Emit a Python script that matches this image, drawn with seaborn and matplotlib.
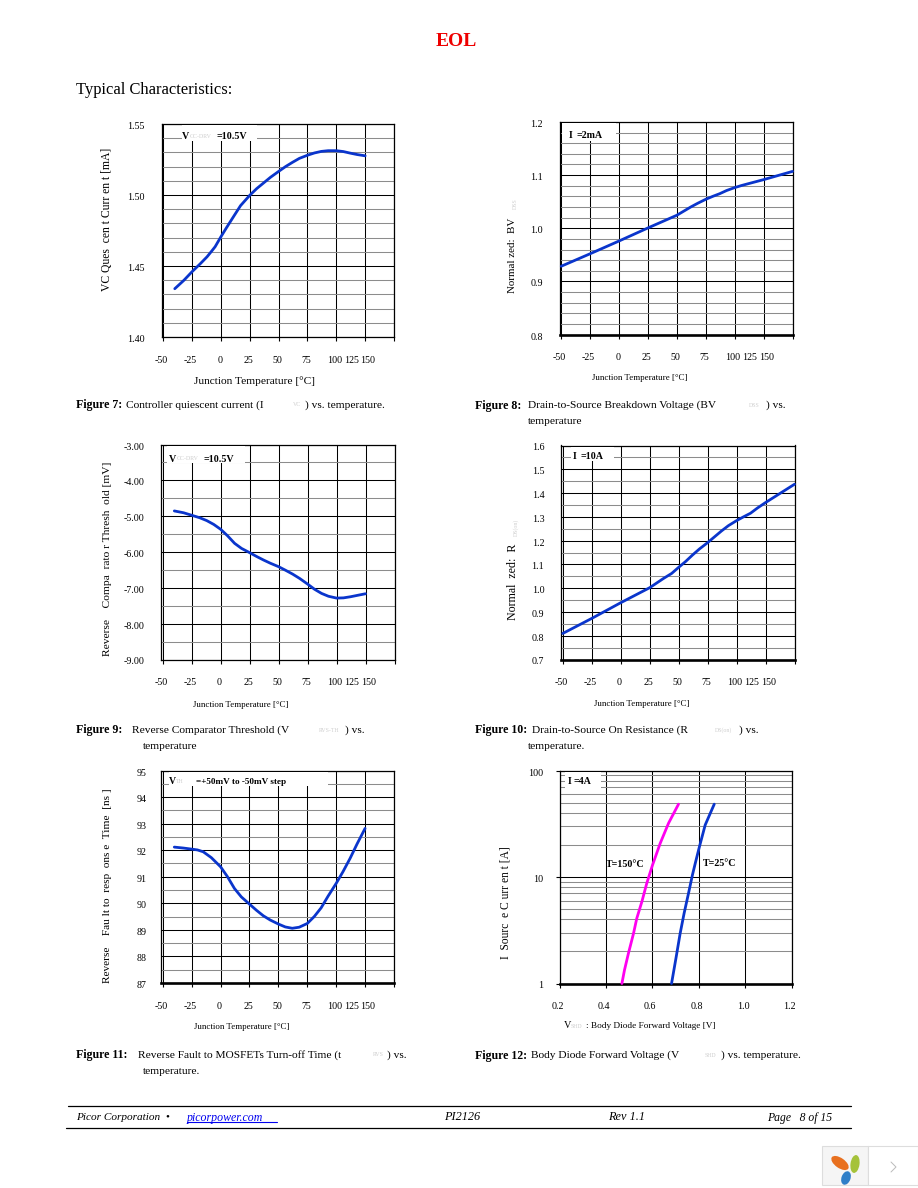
import numpy as np
import matplotlib
matplotlib.use("Agg")
import matplotlib.pyplot as plt
import seaborn as sns
from matplotlib.patches import Rectangle, Ellipse
from matplotlib.ticker import NullFormatter
from matplotlib.transforms import ScaledTranslation

W, H = 918, 1188

# -----------------------------
# DATA (x is read against the drawn grid, which runs -50..150 in steps of 25)
# -----------------------------
temp_grid = [-50, -25, 0, 25, 50, 75, 100, 125, 150]
temp_labels = ["-50", "-25", "0", "25", "50", "75", "100", "125", "150"]
temp_label_pos = [-51.5, -26.5, -1, 24, 49, 74, 98.5, 113, 127.5]

fig7_x = [-40, -32, -25, -18, -12, -8, -5, 0, 5, 10, 17, 25, 31, 37, 43, 50, 56, 62, 68, 75, 81, 87, 93, 100, 106, 112, 118, 125]
fig7_y = [1.434, 1.440, 1.446, 1.4515, 1.4565, 1.4605, 1.4636, 1.4706, 1.4772, 1.4836, 1.4925, 1.4998, 1.5045, 1.5085,
          1.5125, 1.5166, 1.5200, 1.523, 1.5258, 1.528, 1.5296, 1.5307, 1.5312, 1.5312, 1.5306, 1.5295, 1.5285, 1.5276]
fig7_ticks = [1.40, 1.45, 1.50, 1.55]
fig7_labels = ["1.40", "1.45", "1.50", "1.55"]

fig8_x = [-50, -25, 0, 25, 50, 62, 68, 75, 81, 87, 93, 100, 106, 112, 125, 150]
fig8_y = [0.9285, 0.952, 0.976, 1.0006, 1.0245, 1.040, 1.047, 1.0545, 1.060, 1.065, 1.071, 1.0765, 1.0805, 1.084, 1.0915, 1.107]
fig8_ticks = [0.8, 0.9, 1.0, 1.1, 1.2]
fig8_labels = ["0.8", "0.9", "1.0", "1.1", "1.2"]

fig9_x = [-40, -32, -25, -18, -12, -6, 0, 6, 12, 18, 25, 31, 37, 43, 50, 56, 62, 68, 75, 81, 87, 93, 100, 106, 112, 118, 125]
fig9_y = [-4.854, -4.905, -4.975, -5.045, -5.124, -5.23, -5.367, -5.55, -5.758, -5.90, -6.019, -6.125, -6.224, -6.315,
          -6.41, -6.51, -6.615, -6.735, -6.895, -7.04, -7.155, -7.235, -7.286, -7.28, -7.249, -7.21, -7.165]
fig9_ticks = [-9, -8, -7, -6, -5, -4, -3]
fig9_labels = ["-9.00", "-8.00", "-7.00", "-6.00", "-5.00", "-4.00", "-3.00"]

fig10_x = [-50, -25, 0, 25, 37, 44, 50, 56, 62, 68, 75, 81, 87, 93, 100, 106, 112, 118, 125, 150]
fig10_y = [0.8095, 0.8727, 0.9387, 1.0019, 1.041, 1.062, 1.0875, 1.112, 1.1395, 1.165, 1.1914, 1.216, 1.2406, 1.263,
           1.284, 1.30, 1.315, 1.337, 1.36, 1.437]
fig10_ticks = [0.7, 0.8, 0.9, 1.0, 1.1, 1.2, 1.3, 1.4, 1.5, 1.6]
fig10_labels = ["0.7", "0.8", "0.9", "1.0", "1.1", "1.2", "1.3", "1.4", "1.5", "1.6"]

fig11_x = [-40, -32, -25, -20, -15, -8, 0, 6, 12, 18, 25, 31, 37, 43, 50, 56, 62, 68, 75, 81, 87, 93, 100, 106, 112, 118, 125]
fig11_y = [92.116, 92.08, 92.04, 92.01, 91.94, 91.72, 91.376, 91.0, 90.56, 90.24, 89.97, 89.74, 89.53, 89.37, 89.22,
           89.11, 89.06, 89.10, 89.24, 89.5, 89.83, 90.27, 90.75, 91.2, 91.69, 92.23, 92.82]
fig11_ticks = [87, 88, 89, 90, 91, 92, 93, 94, 95]
fig11_labels = ["87", "88", "89", "90", "91", "92", "93", "94", "95"]

fig12_t150_v = [0.469, 0.480, 0.497, 0.519, 0.533, 0.555, 0.576, 0.601, 0.634, 0.670, 0.713]
fig12_t150_i = [1, 1.334, 1.915, 2.95, 4.08, 5.86, 8.71, 12.96, 20.7, 32, 48.3]
fig12_t25_v = [0.683, 0.703, 0.720, 0.737, 0.756, 0.773, 0.785, 0.803, 0.828, 0.867]
fig12_t25_i = [1, 1.78, 2.95, 4.55, 7.02, 10.45, 13.4, 19.2, 30.8, 48.3]
fig12_xticks = [0.2, 0.4, 0.6, 0.8, 1.0, 1.2]
fig12_xlabels = ["0.2", "0.4", "0.6", "0.8", "1.0", "1.2"]

BLUE = "#0A35CC"
MAGENTA = "#FF00F0"
GREY = "#8C8C8C"

sns.set_theme(style="white")
plt.rcParams["font.family"] = ["Liberation Serif", "DejaVu Serif"]

fig = plt.figure(figsize=(W / 100, H / 100), dpi=100, facecolor="white")


def make_axes(left, top, right, bottom, thick_bottom=False):
    ax = fig.add_axes([left / W, 1 - bottom / H, (right - left) / W, (bottom - top) / H])
    for s in ax.spines.values():
        s.set_visible(True)
        s.set_color("black")
        s.set_linewidth(0.9)
    if thick_bottom:
        ax.spines["bottom"].set_linewidth(1.9)
    ax.set_axisbelow(True)
    return ax


def nudge(labels, dx, dy):
    # shift tick labels by a few pixels
    for lab in labels:
        lab.set_transform(lab.get_transform() + ScaledTranslation(dx / 100, -dy / 100, fig.dpi_scale_trans))


def temp_axes(ax, yticks, ylabels, yminor, ypad=12):
    ax.set_xlim(-50, 150)
    ax.set_ylim(yticks[0], yticks[-1])
    ax.set_xticks(temp_label_pos, temp_labels)
    ax.set_xticks(temp_grid, minor=True)
    ax.set_yticks(yticks, ylabels)
    ax.set_yticks(yminor, minor=True)
    ax.tick_params(axis="x", which="major", length=0, pad=13.5, labelsize=7.2, colors="black")
    ax.tick_params(axis="x", which="minor", length=3, width=0.8, color="black", bottom=True)
    ax.tick_params(axis="y", which="both", length=0, pad=ypad, labelsize=7.2, colors="black")
    ax.grid(False)
    ax.grid(True, axis="x", which="minor", color="black", lw=0.75)
    ax.grid(True, axis="y", which="major", color="black", lw=0.75)
    ax.grid(True, axis="y", which="minor", color=GREY, lw=0.75)
    nudge(ax.get_yticklabels(), 0, 1.5)


def draw_curve(ax, x, y, color=BLUE):
    sns.lineplot(x=x, y=y, ax=ax, color=color, lw=2.0, estimator=None, sort=False, legend=False,
                 clip_on=False, zorder=5)
    ax.set_xlabel("")
    ax.set_ylabel("")


# -----------------------------
# CHARTS
# -----------------------------
ax7 = make_axes(161.5, 124, 394, 337)
temp_axes(ax7, fig7_ticks, fig7_labels, list(np.arange(1.41, 1.55, 0.01).round(2)))
draw_curve(ax7, fig7_x, fig7_y)

ax8 = make_axes(559.5, 122, 792.5, 334.5, thick_bottom=True)
temp_axes(ax8, fig8_ticks, fig8_labels, list(np.arange(0.82, 1.2, 0.02).round(2)))
draw_curve(ax8, fig8_x, fig8_y)

ax9 = make_axes(161, 444.5, 394.5, 659.5)
temp_axes(ax9, fig9_ticks, fig9_labels, list(np.arange(-8.5, -3, 1.0)))
draw_curve(ax9, fig9_x, fig9_y)

ax10 = make_axes(561, 445.5, 794.5, 659.5, thick_bottom=True)
temp_axes(ax10, fig10_ticks, fig10_labels, list(np.arange(0.75, 1.6, 0.1).round(2)))
draw_curve(ax10, fig10_x, fig10_y)

ax11 = make_axes(161, 770.5, 394, 983, thick_bottom=True)
temp_axes(ax11, fig11_ticks, fig11_labels, list(np.arange(87.5, 95, 1.0)), ypad=10.5)
draw_curve(ax11, fig11_x, fig11_y)

ax12 = make_axes(559.5, 770.5, 791.5, 983.5, thick_bottom=True)
ax12.set_yscale("log")
ax12.set_xlim(0.2, 1.2)
ax12.set_ylim(1, 100)
ax12.set_xticks(fig12_xticks, fig12_xlabels)
ax12.set_yticks([1, 10, 100], ["1", "10", "100"])
ax12.set_yticks([a * b for b in (1, 10) for a in range(2, 10)], minor=True)
ax12.yaxis.set_minor_formatter(NullFormatter())
ax12.tick_params(axis="x", length=3, width=0.8, pad=10.5, labelsize=7.2, colors="black", bottom=True)
ax12.tick_params(axis="y", which="major", length=3, width=0.8, pad=8.5, labelsize=7.2, colors="black", left=True)
ax12.tick_params(axis="y", which="minor", length=0)
ax12.grid(False)
ax12.grid(True, axis="x", which="major", color="black", lw=0.75)
ax12.grid(True, axis="y", which="major", color="black", lw=0.75)
ax12.grid(True, axis="y", which="minor", color=GREY, lw=0.75)
nudge(ax12.get_xticklabels(), -2, 0)
nudge(ax12.get_yticklabels(), 0, 1.5)
draw_curve(ax12, fig12_t150_v, fig12_t150_i, MAGENTA)
draw_curve(ax12, fig12_t25_v, fig12_t25_i, BLUE)

# -----------------------------
# PAGE OVERLAY (pixel coordinates)
# -----------------------------
page = fig.add_axes([0, 0, 1, 1], zorder=10)
page.set_xlim(0, W)
page.set_ylim(H, 0)
page.axis("off")
page.patch.set_alpha(0)


def txt(x, y, s, size=8.2, weight="normal", color="black", ha="left", style="normal", rot=0):
    return page.text(x, y, s, fontsize=size, fontweight=weight, color=color, ha=ha, va="center",
                     fontstyle=style, rotation=rot)


def pale(x, y, s, rot=0):
    txt(x, y, s, size=4.2, color="#CFCFCF", rot=rot, ha="left" if rot == 0 else "center")


def box(x0, y0, x1, y1):
    page.add_patch(Rectangle((x0, y0), x1 - x0, y1 - y0, fc="white", ec="none"))


# header
txt(456.5, 41.5, "EOL", size=14, weight="bold", color="#EE0000", ha="center")
txt(76.5, 90.5, "Typical Characteristics:", size=11.9)

# inset note boxes
box(181.5, 125, 256.5, 141)
txt(182, 136.5, "V", size=7.2, weight="bold")
pale(190, 136.5, "CC-DRV")
txt(216.5, 136.5, "=10.5V", size=7.2, weight="bold")

box(561.5, 123, 616, 140.5)
txt(568.5, 136, "I", size=7.2, weight="bold")
txt(576.5, 136, "=2mA", size=7.2, weight="bold")

box(166.5, 445.5, 245, 463)
txt(169, 459, "V", size=7.2, weight="bold")
pale(177, 459, "CC-DRV")
txt(204, 459, "=10.5V", size=7.2, weight="bold")

box(571, 446.5, 614, 460.5)
txt(572.5, 456.5, "I", size=7.2, weight="bold")
txt(580.5, 456.5, "=10A", size=7.2, weight="bold")

box(168.5, 771.5, 328, 785.5)
txt(168.5, 781.5, "V", size=7, weight="bold")
pale(176, 781.5, "TH")
txt(196, 781.5, "=+50mV to -50mV step", size=6.6, weight="bold")

box(565, 771.5, 601, 790.5)
txt(567.5, 781.5, "I", size=7.2, weight="bold")
txt(574, 781.5, "=4A", size=7.2, weight="bold")

txt(605.5, 864.5, "T=150°C", size=7.2, weight="bold")
txt(703, 863.5, "T=25°C", size=7.2, weight="bold")

# x axis titles
txt(254, 381, "Junction Temperature [°C]", size=8.2, ha="center")
txt(639.5, 378.5, "Junction Temperature [°C]", size=6.4, ha="center")
txt(241, 705, "Junction Temperature [°C]", size=6.4, ha="center")
txt(641.5, 704, "Junction Temperature [°C]", size=6.4, ha="center")
txt(241.5, 1027, "Junction Temperature [°C]", size=6.4, ha="center")
txt(564, 1025.5, "V", size=7.4)
pale(570.5, 1027, "SHD")
txt(586, 1025.5, ": Body Diode Forward Voltage [V]", size=6.65)

# y axis titles
txt(107.5, 219, "VC Ques  cen t Curr en t [mA]", size=8.4, ha="center", rot=90)
txt(512.5, 255.5, "Normal zed:  BV", size=7.9, ha="center", rot=90)
pale(515, 204, "DSS", rot=90)
txt(107, 559, "Reverse    Compa  rato r Thresh  old [mV]", size=8.25, ha="center", rot=90)
txt(513.5, 582, "Normal  zed:  R", size=8.6, ha="center", rot=90)
pale(516, 527, "DS(on)", rot=90)
txt(107, 885.5, "Reverse    Fau lt to  resp  ons e  Time  [ns ]", size=8.15, ha="center", rot=90)
txt(506, 903, "I  Sourc  e C urr en t [A]", size=8.3, ha="center", rot=90)

# captions
captions = [
    (76, 405, "Figure 7:", 125.5, "Controller quiescent current (I", 293, "VC", 305, ") vs. temperature.", None, None),
    (475, 405.5, "Figure 8:", 528, "Drain-to-Source Breakdown Voltage (BV", 749, "DSS", 766, ") vs.", 528, "temperature"),
    (76, 730.5, "Figure 9:", 132.5, "Reverse Comparator Threshold (V", 319, "RVS-TH", 345, ") vs.", 143, "temperature"),
    (475, 730.5, "Figure 10:", 532, "Drain-to-Source On Resistance (R", 715, "DS(on)", 739, ") vs.", 528, "temperature."),
    (76, 1055, "Figure 11:", 137.5, "Reverse Fault to MOSFETs Turn-off Time (t", 373, "RVS", 387, ") vs.", 143, "temperature."),
    (475, 1055.5, "Figure 12:", 531, "Body Diode Forward Voltage (V", 705, "SHD", 721, ") vs. temperature.", None, None),
]
for x0, y0, head, x1, body, x2, sub, x3, tail, x4, line2 in captions:
    txt(x0, y0, head, weight="bold", size=8.6)
    txt(x1, y0, body)
    pale(x2, y0, sub)
    txt(x3, y0, tail)
    if line2:
        txt(x4, y0 + 16, line2)

# footer
page.plot([68, 851], [1106, 1106], color="black", lw=0.9)
page.plot([66, 851], [1128, 1128], color="black", lw=0.9)
txt(76.5, 1117.5, "Picor Corporation  •", size=8.1, style="italic")
txt(186.5, 1117.5, "picorpower.com", size=8.6, style="italic", color="#0000EE")
page.plot([186.5, 277], [1122, 1122], color="#0000EE", lw=0.8)
txt(444, 1117.5, "PI2126", size=8.8, style="italic")
txt(608, 1117.5, "Rev 1.1", size=8.8, style="italic")
txt(767, 1117.5, "Page   8 of 15", size=8.4, style="italic")

# viewer widget, bottom right corner
page.add_patch(Rectangle((822, 1146), 46, 39, fc="#F5F5F5", ec="#DDDDDD", lw=0.8))
page.add_patch(Rectangle((868, 1146), 50, 39, fc="white", ec="#DDDDDD", lw=0.8))
page.add_patch(Ellipse((840, 1163), 20, 10, angle=35, fc="#E8701F", ec="none"))
page.add_patch(Ellipse((855, 1164), 9, 18, angle=8, fc="#A5C23A", ec="none"))
page.add_patch(Ellipse((846, 1178), 9, 14, angle=20, fc="#2F7FC8", ec="none"))
page.plot([891, 896, 891], [1162, 1167, 1172], color="#BBBBBB", lw=0.7)

fig.savefig("out.png", dpi=100)
plt.close(fig)
